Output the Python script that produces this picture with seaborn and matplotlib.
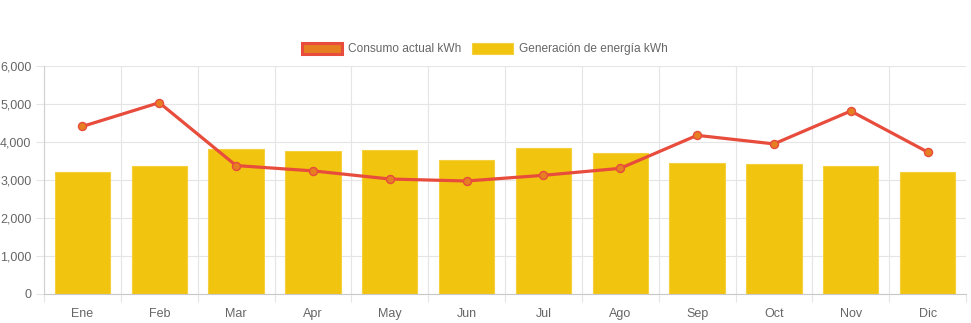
import matplotlib
matplotlib.use("Agg")
import matplotlib.pyplot as plt
from matplotlib.patches import Patch
from matplotlib.ticker import FuncFormatter, MultipleLocator, FixedLocator
import seaborn as sns
import pandas as pd

months = ["Ene", "Feb", "Mar", "Apr", "May", "Jun", "Jul", "Ago", "Sep", "Oct", "Nov", "Dic"]
generacion = [3205, 3365, 3825, 3765, 3790, 3535, 3842, 3710, 3435, 3420, 3370, 3210]
consumo = [4410, 5035, 3380, 3240, 3026, 2974, 3123, 3307, 4175, 3950, 4815, 3737]
label_consumo = "Consumo actual kWh"
label_generacion = "Generación de energía kWh"

df = pd.DataFrame({"mes": months, "gen": generacion, "cons": consumo})

sns.set_theme(style="white")
plt.rcParams["font.family"] = ["Liberation Sans", "DejaVu Sans"]

grid_c = "#e5e5e5"
text_c = "#666666"

fig = plt.figure(figsize=(9.71, 3.23), dpi=100)
ax = fig.add_axes([44 / 971, 29 / 323, 922 / 971, 228 / 323])

sns.barplot(data=df, x="mes", y="gen", order=months, color="#f1c40f", saturation=1,
            width=0.72, edgecolor="#f4d03f", linewidth=0.8, ax=ax, zorder=2)
sns.lineplot(data=df, x="mes", y="cons", sort=False, color="#e74c3c", linewidth=2.3,
             marker="o", markersize=5.8, markerfacecolor="#e67e22", markeredgecolor="#e74c3c",
             markeredgewidth=1.0, ax=ax, zorder=3)

ax.set_xlim(-0.5, len(months) - 0.5)
ax.set_ylim(0, 6000)
ax.yaxis.set_major_locator(MultipleLocator(1000))
ax.yaxis.set_major_formatter(FuncFormatter(lambda v, p: f"{int(v):,}"))
ax.xaxis.set_minor_locator(FixedLocator([i - 0.5 for i in range(len(months) + 1)]))

ax.set_xlabel("")
ax.set_ylabel("")
ax.grid(False)
ax.yaxis.grid(True, which="major", color=grid_c, linewidth=0.8, zorder=0)
ax.xaxis.grid(True, which="minor", color=grid_c, linewidth=0.8, zorder=0)
ax.set_axisbelow(True)

for s in ["top", "right"]:
    ax.spines[s].set_visible(False)
ax.spines["left"].set_color("#d0d0d0")
ax.spines["bottom"].set_color("#c8c8c8")
ax.spines["left"].set_linewidth(0.8)
ax.spines["bottom"].set_linewidth(0.8)

ax.tick_params(axis="x", which="major", length=0, pad=10, labelsize=9, labelcolor=text_c)
ax.tick_params(axis="x", which="minor", length=6, width=0.8, color=grid_c, bottom=True)
ax.tick_params(axis="y", which="major", length=6, width=0.8, color=grid_c, pad=3,
               labelsize=9, labelcolor=text_c, left=True)

handles = [
    Patch(facecolor="#e67e22", edgecolor="#e74c3c", linewidth=2.2, label=label_consumo),
    Patch(facecolor="#f1c40f", edgecolor="#f4d03f", linewidth=0.8, label=label_generacion),
]
leg = fig.legend(handles=handles, loc="center", bbox_to_anchor=(0.499, 274 / 323), ncol=2,
                 frameon=False, fontsize=8.6, handlelength=3.4, handleheight=1.1,
                 handletextpad=0.5, columnspacing=0.9)
for t in leg.get_texts():
    t.set_color(text_c)

fig.savefig("out.png", dpi=100)
